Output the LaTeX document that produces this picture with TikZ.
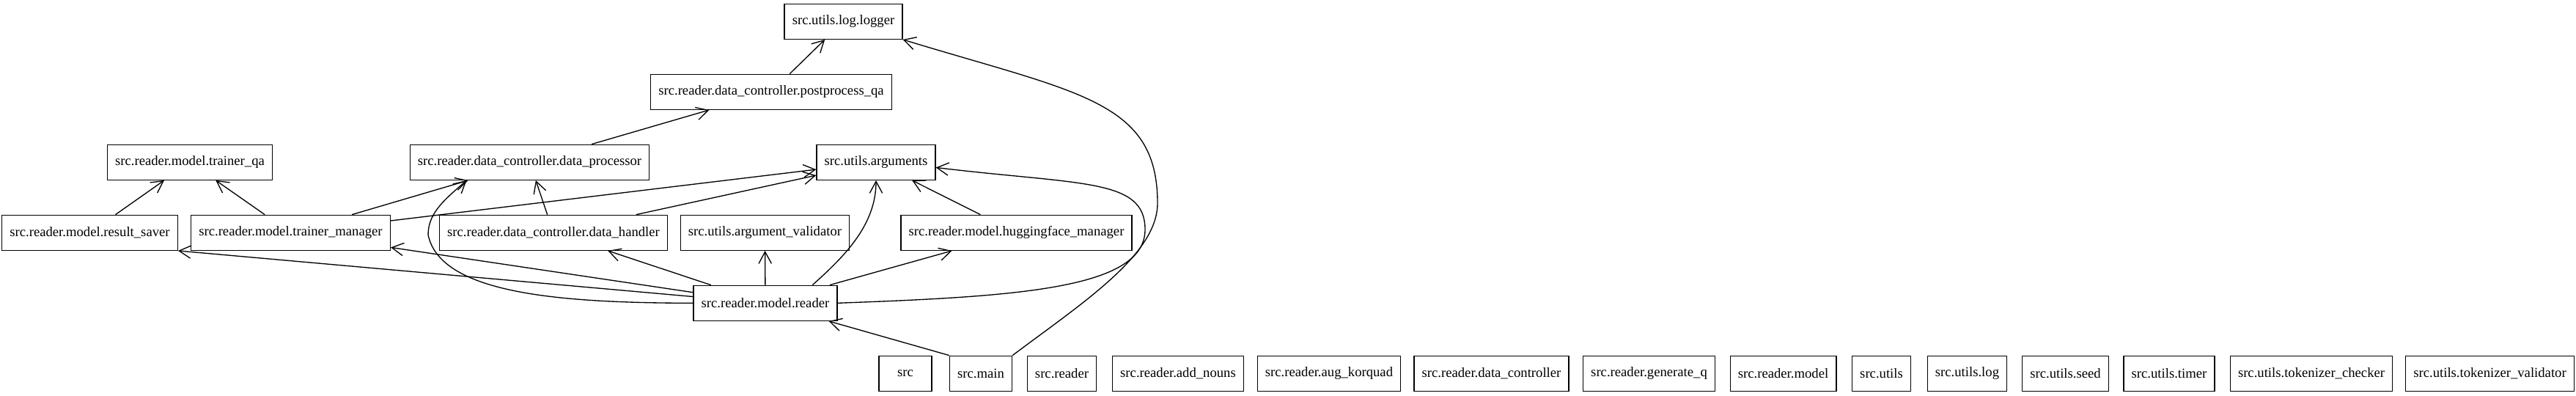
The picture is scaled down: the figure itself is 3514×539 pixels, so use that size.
\documentclass[tikz,border=0pt]{standalone}
\usepackage{fontspec}
\setmainfont{Liberation Serif}
\usetikzlibrary{arrows.meta}

\begin{document}
\begin{tikzpicture}[x=0.75pt,y=0.75pt,
        module/.style={draw, line width=1pt, minimum height=36pt, minimum width=54pt, inner xsep=8pt, inner ysep=0pt, font=\fontsize{14pt}{16pt}\selectfont},
        imports/.style={line width=1pt, -{Straight Barb[length=12pt,width=13pt]}}]
        \useasboundingbox (0,0) rectangle (3514,539);
        % ranks from top to bottom
        \node[module] (logger) at (1150.5,509.7) {src.utils.log.logger};
        \node[module] (postprocess_qa) at (1052,413.7) {src.reader.data\_controller.postprocess\_qa};
        \node[module] (trainer_qa) at (259,317.7) {src.reader.model.trainer\_qa};
        \node[module] (data_processor) at (722.5,317.7) {src.reader.data\_controller.data\_processor};
        \node[module] (arguments) at (1195,317.7) {src.utils.arguments};
        \node[module] (result_saver) at (122.5,221.7) {src.reader.model.result\_saver};
        \node[module] (trainer_manager) at (396.5,221.7) {src.reader.model.trainer\_manager};
        \node[module] (data_handler) at (755,221.7) {src.reader.data\_controller.data\_handler};
        \node[module] (argument_validator) at (1043.5,221.7) {src.utils.argument\_validator};
        \node[module] (huggingface_manager) at (1386.5,221.7) {src.reader.model.huggingface\_manager};
        \node[module] (reader) at (1044,125.7) {src.reader.model.reader};
        % last rank, packages and loose modules
        \node[module] (src) at (1235,29.7) {src};
        \node[module] (main) at (1338,29.7) {src.main};
        \node[module] (reader_pkg) at (1448.5,29.7) {src.reader};
        \node[module] (add_nouns) at (1607,29.7) {src.reader.add\_nouns};
        \node[module] (aug_korquad) at (1813,29.7) {src.reader.aug\_korquad};
        \node[module] (data_controller) at (2034.5,29.7) {src.reader.data\_controller};
        \node[module] (generate_q) at (2249.5,29.7) {src.reader.generate\_q};
        \node[module] (model_pkg) at (2432.5,29.7) {src.reader.model};
        \node[module] (utils) at (2566.5,29.7) {src.utils};
        \node[module] (log_pkg) at (2683.5,29.7) {src.utils.log};
        \node[module] (seed) at (2817.5,29.7) {src.utils.seed};
        \node[module] (timer) at (2959,29.7) {src.utils.timer};
        \node[module] (tokenizer_checker) at (3153,29.7) {src.utils.tokenizer\_checker};
        \node[module] (tokenizer_validator) at (3396.5,29.7) {src.utils.tokenizer\_validator};
        \coordinate (dp_bend) at (584,219);
        \coordinate (args_bend) at (1562,226);
        \coordinate (log_bend) at (1579,262);
        % imports
        \draw[imports] (postprocess_qa) -- (logger);
        \draw[imports] (data_processor) -- (postprocess_qa);
        \draw[imports] (result_saver) -- (trainer_qa);
        \draw[imports] (trainer_manager) -- (trainer_qa);
        \draw[imports] (trainer_manager) -- (data_processor);
        \draw[imports] (trainer_manager) -- (arguments);
        \draw[imports] (data_handler) -- (data_processor);
        \draw[imports] (data_handler) -- (arguments);
        \draw[imports] (huggingface_manager) -- (arguments);
        \draw[imports] (reader) -- (argument_validator);
        \draw[imports] (reader) -- (huggingface_manager);
        \draw[imports] (reader) -- (data_handler);
        \draw[imports] (reader) -- (trainer_manager);
        \draw[imports] (reader) -- (result_saver.south east);
        \draw[imports] (reader.21) .. controls +(45,40) and +(0,-60) .. (arguments.south);
        \draw[imports] (reader.west) .. controls +(-188,0) and +(16,-79) .. (dp_bend) .. controls +(0,31) and +(-27,-24) .. (data_processor.-164);
        \draw[imports] (reader.east) .. controls +(250,9) and +(0,-80) .. (args_bend) .. controls +(0,70) and +(199,-24) .. (arguments.-5);
        \draw[imports] (main.north west) -- (reader);
        \draw[imports] (main.north east) .. controls +(96,72) and +(0,-70) .. (log_bend) .. controls +(0,140) and +(239,-73) .. (logger.south east);
    \end{tikzpicture}
\end{document}
